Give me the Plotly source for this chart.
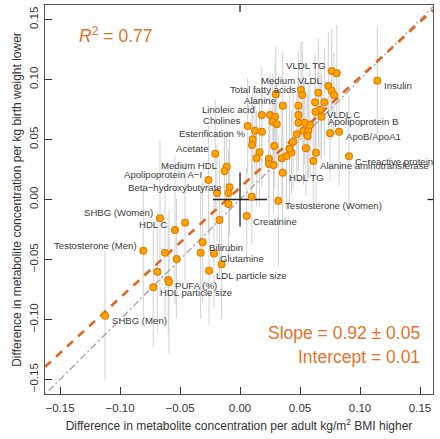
import numpy as np
import plotly.graph_objects as go

# ---- data: per-metabolite association estimates ----
bmi_effect = [
    -0.1125, -0.0806, -0.0667, -0.0542, -0.0458, -0.0625, -0.0528, -0.0689, -0.0598, -0.0592,
    -0.0723, -0.0311, -0.0328, -0.0217, -0.0153, -0.0258, -0.0171, -0.0096, 0.0056, 0.0319,
    0.0098, -0.0088, -0.0096, -0.0192, -0.0263, -0.0111, -0.0129, -0.0206, 0.0064, 0.0125,
    0.0183, 0.0106, 0.0100, 0.0163, 0.0138, 0.0240, 0.0242, 0.0279, 0.0286, 0.0348,
    0.0388, 0.0429, 0.0356, 0.0411, 0.0442, 0.0473, 0.0528, 0.0569, 0.0583, 0.0536,
    0.0486, 0.0486, 0.0564, 0.0550, 0.0633, 0.0611, 0.0908, 0.0750, 0.0825, 0.1144,
    0.0764, 0.0806, 0.0736, 0.0764, 0.0783, 0.0653, 0.0508, 0.0519, 0.0298, 0.0356,
    0.0181, 0.0250, 0.0292, 0.0273, 0.0306, 0.0486, 0.0625, 0.0703, 0.0667, 0.0679,
    0.0629,
]
bw_effect = [
    -0.0968, -0.0427, -0.0157, -0.0254, -0.0193, -0.0443, -0.0496, -0.0602, -0.0671, -0.0690,
    -0.0732, -0.0357, -0.0443, -0.0450, -0.0540, -0.0593, -0.0171, -0.0038, -0.0138, -0.0010,
    0.0023, 0.0102, 0.0054, 0.0054, 0.0163, 0.0273, 0.0238, 0.0382, 0.0613, 0.0573,
    0.0565, 0.0502, 0.0454, 0.0393, 0.0343, 0.0339, 0.0296, 0.0288, 0.0446, 0.0343,
    0.0363, 0.0392, 0.0223, 0.0423, 0.0482, 0.0543, 0.0573, 0.0573, 0.0621, 0.0640,
    0.0640, 0.0704, 0.0529, 0.0427, 0.0390, 0.0321, 0.0360, 0.0552, 0.0565, 0.0990,
    0.1071, 0.1052, 0.0946, 0.0907, 0.0871, 0.0890, 0.0913, 0.0871, 0.0877, 0.0782,
    0.0704, 0.0704, 0.0690, 0.0648, 0.0627, 0.0782, 0.0810, 0.0810, 0.0748, 0.0690,
    0.0732,
]
bw_ci_half = [
    0.054, 0.055, 0.065, 0.062, 0.050, 0.055, 0.050, 0.050, 0.045, 0.060,
    0.050, 0.050, 0.055, 0.045, 0.045, 0.045, 0.050, 0.045, 0.040, 0.055,
    0.040, 0.040, 0.035, 0.040, 0.045, 0.030, 0.030, 0.045, 0.040, 0.035,
    0.045, 0.040, 0.035, 0.045, 0.040, 0.035, 0.045, 0.040, 0.035, 0.040,
    0.045, 0.035, 0.040, 0.045, 0.040, 0.035, 0.045, 0.040, 0.045, 0.035,
    0.040, 0.045, 0.035, 0.040, 0.045, 0.040, 0.050, 0.040, 0.045, 0.045,
    0.035, 0.040, 0.045, 0.040, 0.035, 0.045, 0.040, 0.045, 0.040, 0.045,
    0.040, 0.035, 0.045, 0.040, 0.035, 0.045, 0.040, 0.045, 0.040, 0.035,
    0.040,
]
label_map = {
    60: "VLDL TG", 62: "Medium VLDL", 67: "Total fatty acids", 69: "Alanine",
    70: "Linoleic acid", 28: "Cholines", 31: "Esterification %", 27: "Acetate",
    26: "Medium HDL", 24: "Apolipoprotein A\u2212I", 22: "Beta\u2212hydroxybutyrate",
    2: "SHBG (Women)", 3: "HDL C", 1: "Testosterone (Men)",
    59: "Insulin", 78: "VLDL C", 79: "Apolipoprotein B", 58: "ApoB/ApoA1",
    56: "C\u2212reactive protein", 55: "Alanine aminotransferase", 42: "HDL TG",
    19: "Testosterone (Women)", 18: "Creatinine", 11: "Bilirubin", 13: "Glutamine",
    15: "LDL particle size", 8: "PUFA (%)", 10: "HDL particle size", 0: "SHBG (Men)",
}
names = [label_map.get(i, "") for i in range(len(bmi_effect))]
label_on_left = {60, 62, 67, 69, 70, 28, 31, 27, 26, 24, 22, 2, 3, 1}

slope = 0.92
slope_se = 0.05
intercept = 0.01
r_squared = 0.77
cross_half = 0.0225

x_range = [-0.1625, 0.1608]
y_range = [-0.1621, 0.1621]
tick_vals = [-0.15, -0.10, -0.05, 0.00, 0.05, 0.10, 0.15]
tick_text = ["\u22120.15", "\u22120.10", "\u22120.05", "0.00", "0.05", "0.10", "0.15"]

# ---- figure ----
FONT = "Liberation Sans, Arial, Helvetica, sans-serif"
ORANGE_TXT = "#E3722A"
ORANGE_LINE = "#E0661F"

fig = go.Figure()

ex, ey = [], []
for xi, yi, ei in zip(bmi_effect, bw_effect, bw_ci_half):
    ex += [xi, xi, None]
    ey += [yi - ei, yi + ei, None]
fig.add_trace(go.Scatter(x=ex, y=ey, mode="lines",
                         line=dict(color="#d2d2d2", width=1), hoverinfo="skip"))

xr = np.array(x_range)
fig.add_trace(go.Scatter(x=xr, y=xr, mode="lines",
                         line=dict(color="#9c9c9c", width=1.2, dash="2px,3px,7px,3px"),
                         hoverinfo="skip"))
fig.add_trace(go.Scatter(x=xr, y=slope * xr + intercept, mode="lines",
                         line=dict(color=ORANGE_LINE, width=2.6, dash="8px,7px"),
                         hoverinfo="skip"))

fig.add_trace(go.Scatter(x=[-cross_half, cross_half, None, 0, 0],
                         y=[0, 0, None, -cross_half, cross_half],
                         mode="lines", line=dict(color="#222222", width=1.3),
                         hoverinfo="skip"))

fig.add_trace(go.Scatter(x=bmi_effect, y=bw_effect, mode="markers",
                         text=names,
                         marker=dict(size=6.8, color="#FFA500",
                                     line=dict(color="#E37E00", width=1.2))))

for i, nm in enumerate(names):
    if not nm:
        continue
    left = i in label_on_left
    fig.add_annotation(x=bmi_effect[i], y=bw_effect[i], text=nm, showarrow=False,
                       xanchor="right" if left else "left", yanchor="middle",
                       xshift=-4.5 if left else 4.5, yshift=5.5 if left else -5,
                       font=dict(family=FONT, size=9.6, color="#3a3a3a"))

fig.add_annotation(xref="paper", yref="paper", x=0.0825, y=0.923,
                   xanchor="left", yanchor="middle", showarrow=False,
                   text=f"<i>R</i><sup>2</sup> = {r_squared:.2f}",
                   font=dict(family=FONT, size=17.5, color=ORANGE_TXT))
fig.add_annotation(xref="paper", yref="paper", x=0.9724, y=0.1576,
                   xanchor="right", yanchor="middle", showarrow=False,
                   text=f"Slope = {slope:.2f} \u00b1 {slope_se:.2f}",
                   font=dict(family=FONT, size=17.5, color=ORANGE_TXT))
fig.add_annotation(xref="paper", yref="paper", x=0.9724, y=0.0943,
                   xanchor="right", yanchor="middle", showarrow=False,
                   text=f"Intercept = {intercept:.2f}",
                   font=dict(family=FONT, size=17.5, color=ORANGE_TXT))

# inner ticks at zero on the top and right sides
fig.add_shape(type="line", xref="x", yref="y domain", x0=0, x1=0, y0=0.982, y1=1,
              line=dict(color="#222222", width=1.3))
fig.add_shape(type="line", xref="x domain", yref="y", x0=0.986, x1=1, y0=0, y1=0,
              line=dict(color="#222222", width=1.3))

axis_common = dict(
    showgrid=False, zeroline=False, showline=True, mirror=True, automargin=False,
    linecolor="#555555", linewidth=1.2,
    ticks="inside", ticklen=7, tickwidth=1.2, tickcolor="#333333",
    tickvals=tick_vals, ticktext=tick_text,
    tickfont=dict(family=FONT, size=11.5, color="#333333"),
)
fig.update_xaxes(range=x_range, ticklabelstandoff=3,
                 title=dict(text="Difference in metabolite concentration per adult kg/m<sup>2</sup> BMI higher",
                            font=dict(family=FONT, size=12, color="#333333"), standoff=8),
                 **axis_common)
fig.update_yaxes(range=y_range, tickangle=-90, ticklabelstandoff=1,
                 title=dict(text="Difference in metabolite concentration per kg birth weight lower",
                            font=dict(family=FONT, size=12, color="#333333"), standoff=4),
                 **axis_common)

fig.update_layout(width=440, height=439, margin=dict(l=45, r=7, t=5, b=45),
                  plot_bgcolor="white", paper_bgcolor="white", showlegend=False,
                  font=dict(family=FONT))

fig.write_html("out.html", config={"displayModeBar": False},
               post_script="document.body.style.margin='0px';document.body.style.overflow='hidden';")
